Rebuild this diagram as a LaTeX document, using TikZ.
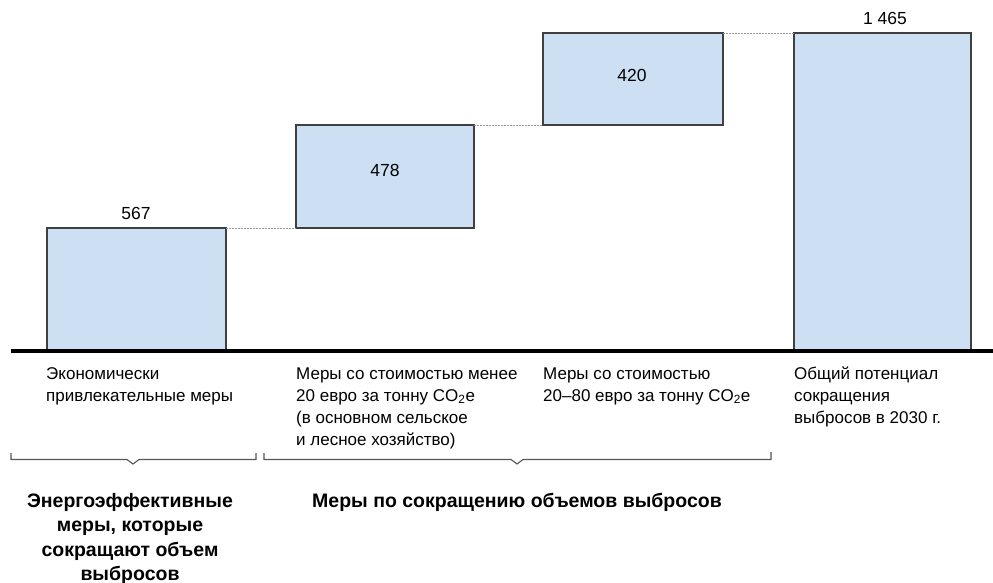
\documentclass[tikz,border=0pt]{standalone}
\usepackage{fontspec}
\setmainfont{Liberation Sans}
\definecolor{barfill}{HTML}{CCDFF3}
\definecolor{barline}{HTML}{404040}
\definecolor{brk}{HTML}{555555}
\tikzset{
  bar/.style={draw=barline, line width=1.4pt, fill=barfill, inner sep=0pt, outer sep=0pt, anchor=north west},
  val/.style={inner sep=0pt, anchor=base, font=\fontsize{17.5}{20}\selectfont},
  cat/.style={inner sep=0pt, anchor=base west, align=left, font=\fontsize{17}{22}\selectfont},
  head/.style={inner sep=0pt, anchor=base, align=center, font=\fontsize{19.5}{24.5}\selectfont\bfseries},
  guide/.style={draw=gray!80, line width=0.6pt, dash pattern=on 2pt off 1pt},
  bracket/.style={draw=brk, line width=1.1pt}
}
\begin{document}
\begin{tikzpicture}[x=1pt,y=-1pt]
\useasboundingbox (0,0) rectangle (993,583);
% bars
\node[bar, minimum width=179pt, minimum height=123pt] (b1) at (47,228) {};
\node[bar, minimum width=178pt, minimum height=103pt] (b2) at (296,125) {};
\node[bar, minimum width=180pt, minimum height=92pt] (b3) at (543,33) {};
\node[bar, minimum width=177pt, minimum height=318pt] (b4) at (794,33) {};
% guide lines
\draw[guide] (b1.north east) -- (b2.south west);
\draw[guide] (b2.north east) -- (b3.south west);
\draw[guide] (b3.north east) -- (b4.north west);
% baseline
\coordinate (axl) at (11,351);
\coordinate (axr) at (993,351);
\draw[line width=4pt] (axl) -- (axr);
% values
\node[val] (v1) at (136,219) {567};
\node[val] (v2) at (385,176) {478};
\node[val] (v3) at (632,82) {420};
\node[val] (v4) at (885,25) {1 465};
% category labels (anchor = baseline of last line)
\node[cat] (c1) at (46,401) {Экономически\\привлекательные меры};
\node[cat] (c2) at (296,445) {Меры со стоимостью менее\\20 евро за тонну CO\textsubscript{2}e\\(в основном сельское\\и лесное хозяйство)};
\node[cat] (c3) at (543,401) {Меры со стоимостью\\20–80 евро за тонну CO\textsubscript{2}e};
\node[cat] (c4) at (794,423) {Общий потенциал\\сокращения\\выбросов в 2030 г.};
% brackets
\draw[bracket] (11,453) -- (11,459.5) -- (127,459.5) -- (133,464) -- (139,459.5) -- (256,459.5) -- (256,453);
\draw[bracket] (264,453) -- (264,459.5) -- (511,459.5) -- (517,464) -- (523,459.5) -- (771,459.5) -- (771,452);
% headings
\node[head] (h1) at (130,580.5) {Энергоэффективные\\меры, которые\\сокращают объем\\выбросов};
\node[head] (h2) at (517,507) {Меры по сокращению объемов выбросов};
\end{tikzpicture}
\end{document}
